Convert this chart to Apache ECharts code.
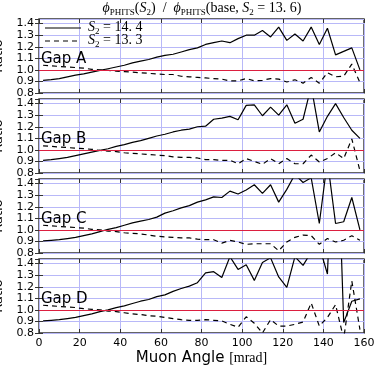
<!DOCTYPE html>
<html>
<head>
<meta charset="utf-8">
<script src="https://cdn.jsdelivr.net/npm/echarts@6/dist/echarts.min.js"></script>
<style>
  html, body { margin: 0; padding: 0; background: #fff; }
  #chart { width: 382px; height: 373px; }
</style>
</head>
<body>
<div id="chart"></div>
<script>
// muon angle bin centres [mrad]
const angles = [2, 6, 10, 14, 18, 22, 26, 30, 34, 38, 42, 46, 50, 54, 58, 62, 66, 70, 74, 78,
  82, 86, 90, 94, 98, 102, 106, 110, 114, 118, 122, 126, 130, 134, 138, 142, 146, 150, 154, 158];

// ratio for S2 = 14.4 (solid) and S2 = 13.3 (dashed), one pair per gap
const gapA_144 = [0.91, 0.915, 0.925, 0.94, 0.955, 0.965, 0.98, 0.995, 1.01, 1.025, 1.04, 1.06, 1.075, 1.09, 1.11, 1.125, 1.135, 1.155, 1.175, 1.19,
  1.22, 1.235, 1.25, 1.235, 1.27, 1.30, 1.30, 1.34, 1.285, 1.37, 1.255, 1.31, 1.25, 1.37, 1.22, 1.36, 1.13, 1.16, 1.19, 1.0];
const gapA_133 = [1.04, 1.035, 1.03, 1.025, 1.02, 1.015, 1.005, 1.0, 0.995, 0.99, 0.985, 0.98, 0.975, 0.97, 0.965, 0.96, 0.96, 0.945, 0.94, 0.935,
  0.93, 0.925, 0.92, 0.905, 0.905, 0.925, 0.905, 0.91, 0.925, 0.92, 0.895, 0.915, 0.885, 0.935, 0.885, 0.975, 0.94, 0.945, 1.05, 0.89];

const gapB_144 = [0.91, 0.915, 0.925, 0.935, 0.95, 0.965, 0.98, 0.995, 1.01, 1.03, 1.045, 1.065, 1.08, 1.10, 1.12, 1.135, 1.155, 1.17, 1.18, 1.20,
  1.205, 1.265, 1.275, 1.29, 1.26, 1.385, 1.39, 1.295, 1.37, 1.30, 1.39, 1.23, 1.265, 1.55, 1.155, 1.29, 1.40, 1.28, 1.17, 1.10];
const gapB_133 = [1.035, 1.03, 1.025, 1.02, 1.015, 1.01, 1.005, 0.995, 0.99, 0.985, 0.975, 0.97, 0.965, 0.96, 0.955, 0.95, 0.94, 0.935, 0.935, 0.93,
  0.915, 0.915, 0.91, 0.91, 0.88, 0.925, 0.90, 0.875, 0.925, 0.88, 0.925, 0.88, 0.88, 0.955, 0.895, 0.925, 0.975, 0.925, 1.095, 0.82];

const gapC_144 = [0.905, 0.91, 0.915, 0.925, 0.935, 0.95, 0.965, 0.985, 1.005, 1.02, 1.04, 1.06, 1.075, 1.09, 1.11, 1.145, 1.165, 1.19, 1.21, 1.24,
  1.26, 1.285, 1.28, 1.335, 1.31, 1.345, 1.39, 1.315, 1.39, 1.24, 1.35, 1.48, 1.41, 1.45, 1.055, 1.6, 1.055, 1.07, 1.28, 1.0];
const gapC_133 = [1.04, 1.035, 1.03, 1.025, 1.02, 1.015, 1.005, 1.0, 0.99, 0.985, 0.975, 0.97, 0.965, 0.955, 0.945, 0.94, 0.935, 0.93, 0.93, 0.92,
  0.915, 0.915, 0.885, 0.91, 0.895, 0.875, 0.88, 0.88, 0.88, 0.82, 0.895, 0.935, 0.955, 0.95, 0.875, 0.925, 0.895, 0.91, 0.95, 0.91];

const gapD_144 = [0.905, 0.91, 0.915, 0.925, 0.935, 0.95, 0.965, 0.985, 1.0, 1.02, 1.035, 1.055, 1.075, 1.09, 1.115, 1.13, 1.16, 1.185, 1.205, 1.235,
  1.32, 1.33, 1.28, 1.46, 1.35, 1.39, 1.255, 1.41, 1.45, 1.285, 1.195, 1.46, 1.385, 1.5, 1.55, 1.31, 3.0, 0.89, 1.075, 1.095];
const gapD_133 = [1.04, 1.035, 1.03, 1.025, 1.02, 1.01, 1.005, 1.0, 0.99, 0.985, 0.975, 0.965, 0.96, 0.95, 0.945, 0.935, 0.925, 0.915, 0.91, 0.91,
  0.915, 0.91, 0.905, 0.875, 0.85, 0.94, 0.885, 0.80, 0.915, 0.86, 0.86, 0.875, 0.895, 1.06, 0.86, 0.935, 1.045, 0.75, 1.25, 0.83];

const gapNames = ['Gap A', 'Gap B', 'Gap C', 'Gap D'];
const solidData = [gapA_144, gapB_144, gapC_144, gapD_144];
const dashData = [gapA_133, gapB_133, gapC_133, gapD_133];

const gridTops = [19, 99, 179, 259];
const plotLeft = 39, plotW = 325, plotH = 74;
const red = '#dc1f3f';
const gridCol = '#b8b8f8';
const frame = '#333';
const serif = 'Liberation Serif';
const dash = [5, 4];

function pairs(vals) {
  return angles.map((a, i) => [a, vals[i]]);
}

const grids = [], xAxes = [], yAxes = [], series = [], graphics = [];

gridTops.forEach((top, i) => {
  const last = i === gridTops.length - 1;
  grids.push({ left: plotLeft, top: top, width: plotW, height: plotH,
    containLabel: false, outerBoundsMode: 'none',
    show: true, borderColor: frame, borderWidth: 1.4, backgroundColor: '#fff' });

  // bottom x axis
  xAxes.push({
    type: 'value', gridIndex: i, min: 0, max: 160, interval: 20, position: 'bottom',
    axisLine: { show: false },
    axisTick: { show: true, inside: true, length: 4, lineStyle: { color: frame } },
    axisLabel: { show: last, fontFamily: 'DejaVu Sans', fontSize: 11, color: '#000', margin: 5 },
    splitLine: { show: true, lineStyle: { color: gridCol, width: 1 } },
    name: last ? 'Muon Angle {u|[mrad]}' : '',
    nameLocation: 'middle', nameGap: 18,
    nameTextStyle: { fontFamily: 'DejaVu Sans', fontSize: 15, color: '#000',
      rich: { u: { fontFamily: serif, fontSize: 14, color: '#000' } } }
  });
  // top x axis, ticks only
  xAxes.push({
    type: 'value', gridIndex: i, min: 0, max: 160, interval: 20, position: 'top',
    axisLine: { show: false },
    axisTick: { show: true, inside: true, length: 4, lineStyle: { color: frame } },
    axisLabel: { show: false }, splitLine: { show: false }
  });
  // left y axis
  yAxes.push({
    type: 'value', gridIndex: i, min: 0.8, max: 1.44, interval: 0.1, position: 'left',
    axisLine: { show: false },
    axisTick: { show: true, inside: true, length: 4, lineStyle: { color: frame } },
    axisLabel: { fontFamily: 'DejaVu Sans', fontSize: 11, color: '#000', margin: 5,
      showMaxLabel: false, formatter: v => v.toFixed(1) },
    splitLine: { show: true, lineStyle: { color: gridCol, width: 1 } },
    name: 'Ratio', nameLocation: 'middle', nameGap: 29, nameRotate: 90,
    nameTextStyle: { fontFamily: 'DejaVu Sans', fontSize: 13, color: '#000' }
  });
  // right y axis, ticks only
  yAxes.push({
    type: 'value', gridIndex: i, min: 0.8, max: 1.44, interval: 0.1, position: 'right',
    axisLine: { show: false },
    axisTick: { show: true, inside: true, length: 4, lineStyle: { color: frame } },
    axisLabel: { show: false }, splitLine: { show: false }
  });

  series.push({
    name: 'S2=14.4', type: 'line', xAxisIndex: 2 * i, yAxisIndex: 2 * i,
    data: pairs(solidData[i]), symbol: 'none', clip: true,
    lineStyle: { color: '#000', width: 1.2 }, itemStyle: { color: '#000' },
    markLine: { silent: true, symbol: 'none', label: { show: false },
      lineStyle: { color: red, type: 'solid', width: 1.2 },
      data: [{ yAxis: 1.0 }] },
    z: 3
  });
  series.push({
    name: 'S2=13.3', type: 'line', xAxisIndex: 2 * i, yAxisIndex: 2 * i,
    data: pairs(dashData[i]), symbol: 'none', clip: true,
    lineStyle: { color: '#000', width: 1.2, type: dash }, itemStyle: { color: '#000' },
    z: 3
  });

  graphics.push({
    type: 'text', left: 41, top: top + 33, z: 10,
    style: { text: gapNames[i], font: '15px "DejaVu Sans"', fill: '#000' }
  });
});

const mathRich = {
  p: { fontFamily: serif, fontStyle: 'italic', fontSize: 14, lineHeight: 16, verticalAlign: 'top' },
  i: { fontFamily: serif, fontStyle: 'italic', fontSize: 14, lineHeight: 16, verticalAlign: 'top' },
  n: { fontFamily: serif, fontSize: 14, lineHeight: 16, verticalAlign: 'top' },
  s: { fontFamily: serif, fontSize: 9, lineHeight: 10, verticalAlign: 'bottom' }
};

// title with math-like subscripts
graphics.push({
  type: 'text', x: 202, y: 9, z: 10,
  style: {
    text: '{p|ϕ}{s|PHITS}{n|(}{i|S}{s|2}{n|)  /  }{p|ϕ}{s|PHITS}{n|(base, }{i|S}{s|2}{n| = 13. 6)}',
    align: 'center', verticalAlign: 'middle', fill: '#000', rich: mathRich
  }
});

// legend drawn by hand: line samples and labels
const legendRows = [
  { y: 28, label: '{i|S}{s|2}{n| = 14. 4}', lineDash: null },
  { y: 41, label: '{i|S}{s|2}{n| = 13. 3}', lineDash: dash }
];
legendRows.forEach(r => {
  graphics.push({
    type: 'line', z: 10,
    shape: { x1: 45, y1: r.y, x2: 81, y2: r.y },
    style: { stroke: '#000', lineWidth: 1.2, lineDash: r.lineDash }
  });
  graphics.push({
    type: 'text', x: 88, y: r.y, z: 10,
    style: { text: r.label, align: 'left', verticalAlign: 'middle', fill: '#000', rich: mathRich }
  });
});

const chart = echarts.init(document.getElementById('chart'), null, { renderer: 'canvas' });
chart.setOption({
  animation: false,
  backgroundColor: '#fff',
  grid: grids,
  xAxis: xAxes,
  yAxis: yAxes,
  graphic: graphics,
  series: series
});
</script>
</body>
</html>
